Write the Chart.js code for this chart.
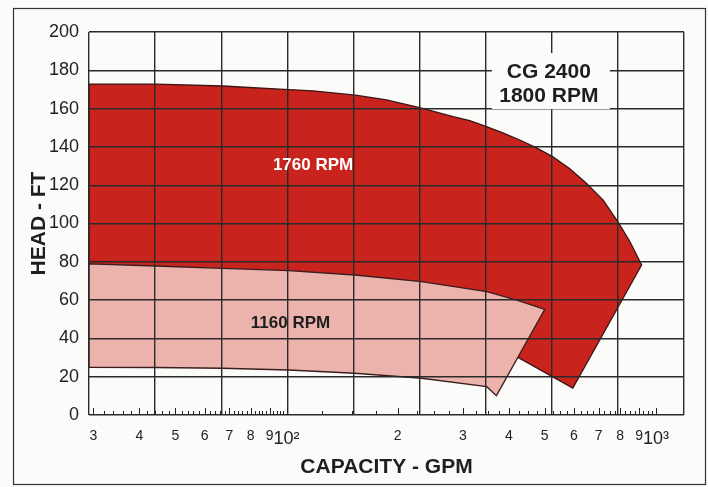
<!DOCTYPE html>
<html>
<head>
<meta charset="utf-8">
<script src="https://cdn.jsdelivr.net/npm/chart.js@4.4.1/dist/chart.umd.min.js"></script>
<style>
  html, body { margin: 0; padding: 0; background: #fbfbfa; }
</style>
</head>
<body>
<canvas id="pumpChart" width="708" height="487"></canvas>
<script>
// ===================
// Curve outlines (capacity GPM / head FT)
// ===================
// 1760 RPM: top curve, tip, lower corner, then back under the 1160 band
const cap1760 = [29.2, 44.2, 67.1, 95.7, 117.8, 153.8, 186.4, 229.3, 282.5, 313.3, 347.7, 385, 428, 475, 524.8, 584.6, 649, 719.7, 793.6, 850.4, 914.5, 595.6, 428, 354.9, 29.2, 29.2];
const head1760 = [172.8, 172.8, 171.8, 170.2, 169.3, 167.0, 164.5, 160.5, 155.8, 153.7, 150.6, 147.3, 143.6, 139.5, 134.9, 128.6, 120.9, 112.2, 100.1, 90.5, 78.3, 14.1, 29.6, 38.4, 50, 172.8];

// 1160 RPM band
const cap1160 = [29.2, 44.2, 67.1, 101.3, 153, 232, 348.4, 420, 500, 370, 348.4, 232, 153, 101.3, 67.1, 44.2, 29.2, 29.2];
const head1160 = [78.9, 77.8, 76.6, 75.4, 73.1, 69.6, 64.4, 60, 55.2, 10.1, 14.8, 19.2, 21.8, 23.5, 24.4, 24.8, 24.9, 78.9];

// axis ticks
const xMajor = [30, 40, 50, 60, 70, 80, 90, 100, 200, 300, 400, 500, 600, 700, 800, 900, 1000];
const xLabels = ["3", "4", "5", "6", "7", "8", "9", "10²", "2", "3", "4", "5", "6", "7", "8", "9", "10³"];
const xMinor = [32, 34, 36, 38, 42, 44, 46, 48, 52, 54, 56, 58, 62, 64, 66, 68, 72, 74, 76, 78, 82, 84, 86, 88, 92, 94, 96, 98,
  125, 150, 175, 225, 250, 275, 325, 350, 375, 425, 450, 475, 525, 550, 575, 625, 650, 675, 725, 750, 775, 825, 850, 875, 925, 950, 975];
const yTicks = [0, 20, 40, 60, 80, 100, 120, 140, 160, 180, 200];

const gridColor = "#2a2a2a";
const fontFamily = "'Liberation Sans', Arial, sans-serif";

// ticks, labels and frame drawn on top
const extras = {
  id: "extras",
  afterDraw(chart) {
    const { ctx, scales: { x, y } } = chart;
    ctx.save();

    // small tick marks inside the plot along the bottom
    const base = y.getPixelForValue(0);
    ctx.strokeStyle = "#222";
    ctx.lineWidth = 1;
    ctx.beginPath();
    xMajor.forEach((v) => {
      const px = Math.round(x.getPixelForValue(v)) + 0.5;
      ctx.moveTo(px, base);
      ctx.lineTo(px, base - 7);
    });
    xMinor.forEach((v) => {
      const px = Math.round(x.getPixelForValue(v)) + 0.5;
      ctx.moveTo(px, base);
      ctx.lineTo(px, base - 4);
    });
    ctx.stroke();

    // curve names
    ctx.textAlign = "center";
    ctx.textBaseline = "middle";
    ctx.font = "bold 17px " + fontFamily;
    ctx.fillStyle = "#ffffff";
    ctx.fillText("1760 RPM", x.getPixelForValue(118), y.getPixelForValue(130.5));
    ctx.fillStyle = "#1e1e1e";
    ctx.fillText("1160 RPM", x.getPixelForValue(102.5), y.getPixelForValue(48));

    // model box
    const cx = x.getPixelForValue(513);
    const cy = y.getPixelForValue(172.8);
    ctx.fillStyle = "#fbfbfa";
    ctx.fillRect(cx - 57, cy - 31, 118, 56);
    ctx.font = "bold 21px " + fontFamily;
    ctx.fillStyle = "#1e1e1e";
    ctx.fillText("CG 2400", cx, cy - 12);
    ctx.fillText("1800 RPM", cx, cy + 12);

    // outer frame
    ctx.strokeStyle = "#333";
    ctx.lineWidth = 1.2;
    ctx.strokeRect(13.5, 8.5, 692, 476);
    ctx.restore();
  },
};

new Chart(document.getElementById("pumpChart"), {
  type: "line",
  data: {
    datasets: [
      {
        label: "1160 RPM",
        data: cap1160.map((c, i) => ({ x: c, y: head1160[i] })),
        backgroundColor: "#ecb3ad",
        borderColor: "#3a1e1e",
        borderWidth: 1.3,
        fill: "shape",
        tension: 0,
        pointRadius: 0,
        order: 1,
      },
      {
        label: "1760 RPM",
        data: cap1760.map((c, i) => ({ x: c, y: head1760[i] })),
        backgroundColor: "#c9231d",
        borderColor: "#3a1414",
        borderWidth: 1.3,
        fill: "shape",
        tension: 0,
        pointRadius: 0,
        order: 2,
      },
    ],
  },
  options: {
    responsive: false,
    animation: false,
    devicePixelRatio: 1,
    layout: { padding: { top: 32, right: 24, bottom: 0, left: 0 } },
    plugins: { legend: { display: false }, tooltip: { enabled: false } },
    scales: {
      x: {
        type: "logarithmic",
        position: "bottom",
        min: 29.2,
        max: 1191,
        afterBuildTicks: (s) => {
          s.ticks = xMajor.map((v) => ({ value: v }));
        },
        afterFit: (s) => {
          s.height = 72;
        },
        grid: { display: false },
        border: { display: false },
        ticks: {
          autoSkip: false,
          maxRotation: 0,
          padding: 5,
          color: "#222",
          font: (ctx) => ({
            family: fontFamily,
            size: ctx.tick && (ctx.tick.value === 100 || ctx.tick.value === 1000) ? 18 : 14,
          }),
          callback: (v, i) => xLabels[i],
        },
        title: {
          display: true,
          text: "CAPACITY - GPM",
          color: "#1e1e1e",
          font: { family: fontFamily, size: 21, weight: "bold" },
          padding: { top: 0, bottom: 7 },
        },
      },
      // evenly spaced vertical rules of the sheet
      x2: {
        type: "linear",
        position: "top",
        min: 0,
        max: 9,
        afterFit: (s) => {
          s.height = 0;
        },
        ticks: { display: false, stepSize: 1 },
        grid: { color: gridColor, lineWidth: 1.4, drawTicks: false, z: 1 },
        border: { display: false },
      },
      y: {
        min: 0,
        max: 200,
        afterBuildTicks: (s) => {
          s.ticks = yTicks.map((v) => ({ value: v }));
        },
        afterFit: (s) => {
          s.width = 89;
        },
        grid: { color: gridColor, lineWidth: 1.4, drawTicks: false, z: 1 },
        border: { display: false },
        ticks: {
          padding: 10,
          color: "#222",
          font: { family: fontFamily, size: 18 },
        },
        title: {
          display: true,
          text: "HEAD - FT",
          color: "#1e1e1e",
          font: { family: fontFamily, size: 21, weight: "bold" },
          padding: { top: 27, bottom: 0 },
        },
      },
    },
  },
  plugins: [extras],
});
</script>
</body>
</html>
